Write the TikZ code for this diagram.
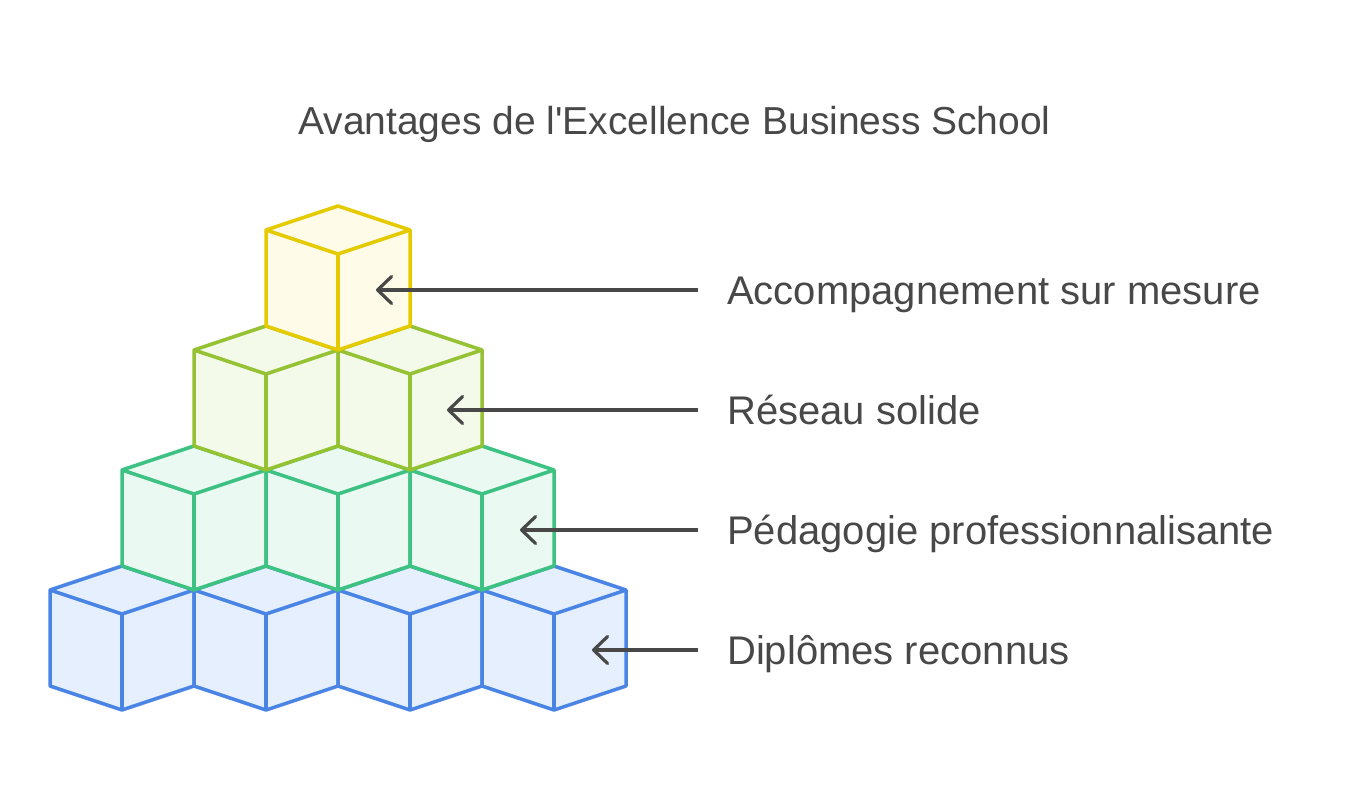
\documentclass[tikz,border=0pt]{standalone}
\usepackage{fontspec}
\setmainfont{Liberation Sans}
\usetikzlibrary{arrows.meta}
\definecolor{ystroke}{HTML}{E5CA00}
\definecolor{yfill}{HTML}{FEFCE8}
\definecolor{ostroke}{HTML}{94C232}
\definecolor{ofill}{HTML}{F4FAEA}
\definecolor{gstroke}{HTML}{3DC283}
\definecolor{gfill}{HTML}{EAFAF2}
\definecolor{bstroke}{HTML}{4A85E5}
\definecolor{bfill}{HTML}{E5EFFD}
\definecolor{txt}{HTML}{484848}
\tikzset{
  cubeline/.style={line width=3.5pt, line join=round},
  arr/.style={draw=txt, line width=3.2pt, -{Straight Barb[length=14pt,width=27pt,round]}},
  lab/.style={anchor=base west, inner sep=0pt, text=txt, font=\fontsize{40}{48}\selectfont},
  ttl/.style={anchor=base, inner sep=0pt, text=txt, font=\fontsize{39}{46}\selectfont}
}
\newcommand{\mycube}[4]{%
  \filldraw[cubeline, draw=#3, fill=#4]
    (#1,#2) -- ++(72,24) -- ++(0,96) -- ++(-72,24) -- ++(-72,-24) -- ++(0,-96) -- cycle;
  \draw[cubeline, draw=#3] (#1-72,#2+24) -- (#1,#2+48) -- (#1+72,#2+24);
  \draw[cubeline, draw=#3] (#1,#2+48) -- (#1,#2+144);
}
\begin{document}
\begin{tikzpicture}[x=1pt,y=-1pt]
\useasboundingbox (0,0) rectangle (1348,808);
% bottom row
\foreach \cx in {122,266,410,554} {\mycube{\cx}{566}{bstroke}{bfill}}
% third row
\foreach \cx in {194,338,482} {\mycube{\cx}{446}{gstroke}{gfill}}
% second row
\foreach \cx in {266,410} {\mycube{\cx}{326}{ostroke}{ofill}}
% top
\mycube{338}{206}{ystroke}{yfill}

\node[ttl] (title) at (674.5,134) {Avantages de l\textquotesingle Excellence Business School};

\node[lab] (l1) at (727,304.5) {Accompagnement sur mesure};
\node[lab] (l2) at (727,424.5) {Réseau solide};
\node[lab] (l3) at (727,544.5) {Pédagogie professionnalisante};
\node[lab] (l4) at (727,664.5) {Diplômes reconnus};

\coordinate (s1) at (698,290); \coordinate (e1) at (376,290);
\coordinate (s2) at (698,410); \coordinate (e2) at (447,410);
\coordinate (s3) at (698,530); \coordinate (e3) at (520,530);
\coordinate (s4) at (698,650); \coordinate (e4) at (592,650);
\draw[arr] (s1) -- (e1);
\draw[arr] (s2) -- (e2);
\draw[arr] (s3) -- (e3);
\draw[arr] (s4) -- (e4);
\end{tikzpicture}
\end{document}
